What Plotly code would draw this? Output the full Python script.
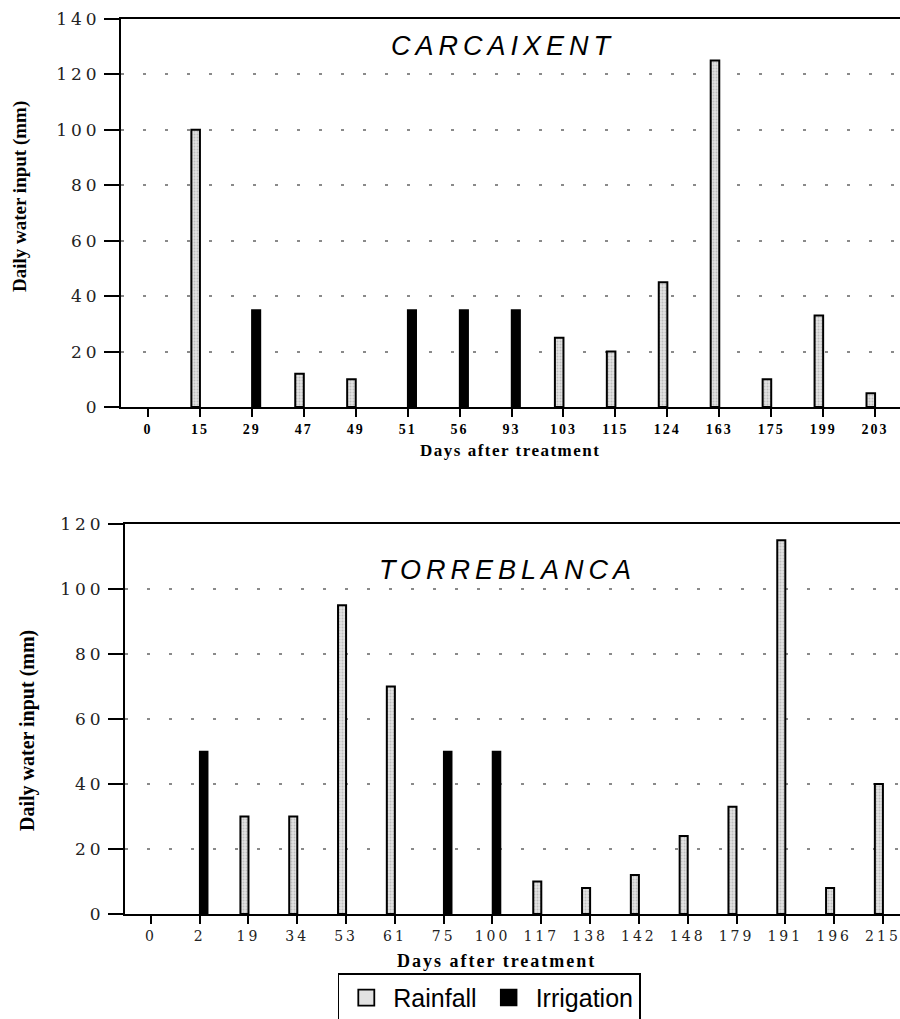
import plotly.graph_objects as go

# ---- data ----
top_days = ["0", "15", "29", "47", "49", "51", "56", "93", "103", "115", "124", "163", "175", "199", "203"]
top_rain_days = ["15", "47", "49", "103", "115", "124", "163", "175", "199", "203"]
top_rain = [100, 12, 10, 25, 20, 45, 125, 10, 33, 5]
top_irr_days = ["29", "51", "56", "93"]
top_irr = [35, 35, 35, 35]
top_yticks = [0, 20, 40, 60, 80, 100, 120, 140]

bot_days = ["0", "2", "19", "34", "53", "61", "75", "100", "117", "138", "142", "148", "179", "191", "196", "215"]
bot_rain_days = ["19", "34", "53", "61", "117", "138", "142", "148", "179", "191", "196", "215"]
bot_rain = [30, 30, 95, 70, 10, 8, 12, 24, 33, 115, 8, 40]
bot_irr_days = ["2", "75", "100"]
bot_irr = [50, 50, 50]
bot_yticks = [0, 20, 40, 60, 80, 100, 120]

W, H = 900, 1019
RAIN_FILL = "#e2e2e2"
BW = 0.165  # bar width in category units


def spaced(s, px):
    return f'<span style="letter-spacing:{px}px">{s}</span>'


rain_marker = dict(color=RAIN_FILL, line=dict(color="black", width=2),
                   pattern=dict(shape=".", fgcolor="#9a9a9a", bgcolor=RAIN_FILL,
                                size=3, solidity=0.35))
irr_marker = dict(color="black", line=dict(color="black", width=1.5))

fig = go.Figure()
fig.add_trace(go.Bar(x=top_rain_days, y=top_rain, name="Rainfall", showlegend=False,
                     width=BW, offset=-BW, marker=rain_marker, xaxis="x", yaxis="y"))
fig.add_trace(go.Bar(x=top_irr_days, y=top_irr, name="Irrigation", showlegend=False,
                     width=BW, offset=0, marker=irr_marker, xaxis="x", yaxis="y"))
fig.add_trace(go.Bar(x=bot_rain_days, y=bot_rain, name="Rainfall", showlegend=False,
                     width=BW, offset=-BW, marker=rain_marker, xaxis="x2", yaxis="y2"))
fig.add_trace(go.Bar(x=bot_irr_days, y=bot_irr, name="Irrigation", showlegend=False,
                     width=BW, offset=0, marker=irr_marker, xaxis="x2", yaxis="y2"))
# legend entries with larger swatches
fig.add_trace(go.Scatter(x=[None], y=[None], mode="markers", name="Rainfall",
                         marker=dict(symbol="square", size=21, color=RAIN_FILL,
                                     line=dict(color="black", width=1.8)),
                         xaxis="x2", yaxis="y2"))
fig.add_trace(go.Scatter(x=[None], y=[None], mode="markers", name="Irrigation",
                         marker=dict(symbol="square", size=21, color="black",
                                     line=dict(color="black", width=1.5)),
                         xaxis="x2", yaxis="y2"))


def py(p):
    return 1 - p / H


axis_common = dict(showline=True, linecolor="black", linewidth=2, ticks="outside",
                   tickcolor="black", tickwidth=1.5, automargin=False)
grid_common = dict(showgrid=True, gridcolor="#8a8a8a", gridwidth=1.5, griddash="3px,19px",
                   zeroline=False)

fig.update_layout(
    width=W, height=H,
    margin=dict(l=0, r=0, t=0, b=0, autoexpand=False),
    paper_bgcolor="white", plot_bgcolor="white",
    barmode="overlay",
    xaxis=dict(domain=[121 / W, 1], anchor="y", type="category",
               categoryorder="array", categoryarray=top_days,
               tickvals=top_days, ticktext=[spaced(d, 2) for d in top_days],
               range=[-0.52, 14.48], mirror=True, ticklen=8,
               tickfont=dict(family="Liberation Serif", size=14, color="black", weight="bold"),
               showgrid=False, **axis_common),
    yaxis=dict(domain=[py(407), py(19)], anchor="x", range=[0, 140],
               tickvals=top_yticks, ticktext=[spaced(v, 4) for v in top_yticks],
               ticklen=15, tickfont=dict(family="DejaVu Serif", size=17, color="#222"),
               **grid_common, **axis_common),
    xaxis2=dict(domain=[125 / W, 1], anchor="y2", type="category",
                categoryorder="array", categoryarray=bot_days,
                tickvals=bot_days, ticktext=[spaced(d, 3) for d in bot_days],
                range=[-0.53, 15.35], mirror=True, ticklen=8,
                tickfont=dict(family="DejaVu Serif", size=14, color="#222"),
                showgrid=False, **axis_common),
    yaxis2=dict(domain=[py(914), py(524)], anchor="x2", range=[0, 120],
                tickvals=bot_yticks, ticktext=[spaced(v, 4) for v in bot_yticks],
                ticklen=15, tickfont=dict(family="DejaVu Serif", size=17, color="#222"),
                **grid_common, **axis_common),
    legend=dict(orientation="h", x=489 / W, xanchor="center", y=py(973), yanchor="top",
                bordercolor="black", borderwidth=1.8, bgcolor="white",
                itemsizing="trace", itemwidth=44,
                font=dict(family="Liberation Sans", size=25, color="black")),
    showlegend=True,
)

ann = [
    dict(text=spaced("CARCAIXENT", 5), x=503 / W, y=py(46),
         font=dict(family="Liberation Sans", size=27, color="black", style="italic")),
    dict(text=spaced("TORREBLANCA", 5), x=507 / W, y=py(570),
         font=dict(family="Liberation Sans", size=27, color="black", style="italic")),
    dict(text=spaced("Days after treatment", 1.5), x=510 / W, y=py(450),
         font=dict(family="Liberation Serif", size=17, color="black", weight="bold")),
    dict(text=spaced("Days after treatment", 2), x=496 / W, y=py(961),
         font=dict(family="Liberation Serif", size=18, color="black", weight="bold")),
    dict(text="Daily water input (mm)", x=20 / W, y=py(197), textangle=-90,
         font=dict(family="Liberation Serif", size=19, color="black", weight="bold")),
    dict(text="Daily water input (mm)", x=27 / W, y=py(731), textangle=-90,
         font=dict(family="Liberation Serif", size=20, color="black", weight="bold")),
]
for a in ann:
    a.update(xref="paper", yref="paper", showarrow=False, xanchor="center", yanchor="middle")
fig.update_layout(annotations=ann)

fig.write_html("out.html")
